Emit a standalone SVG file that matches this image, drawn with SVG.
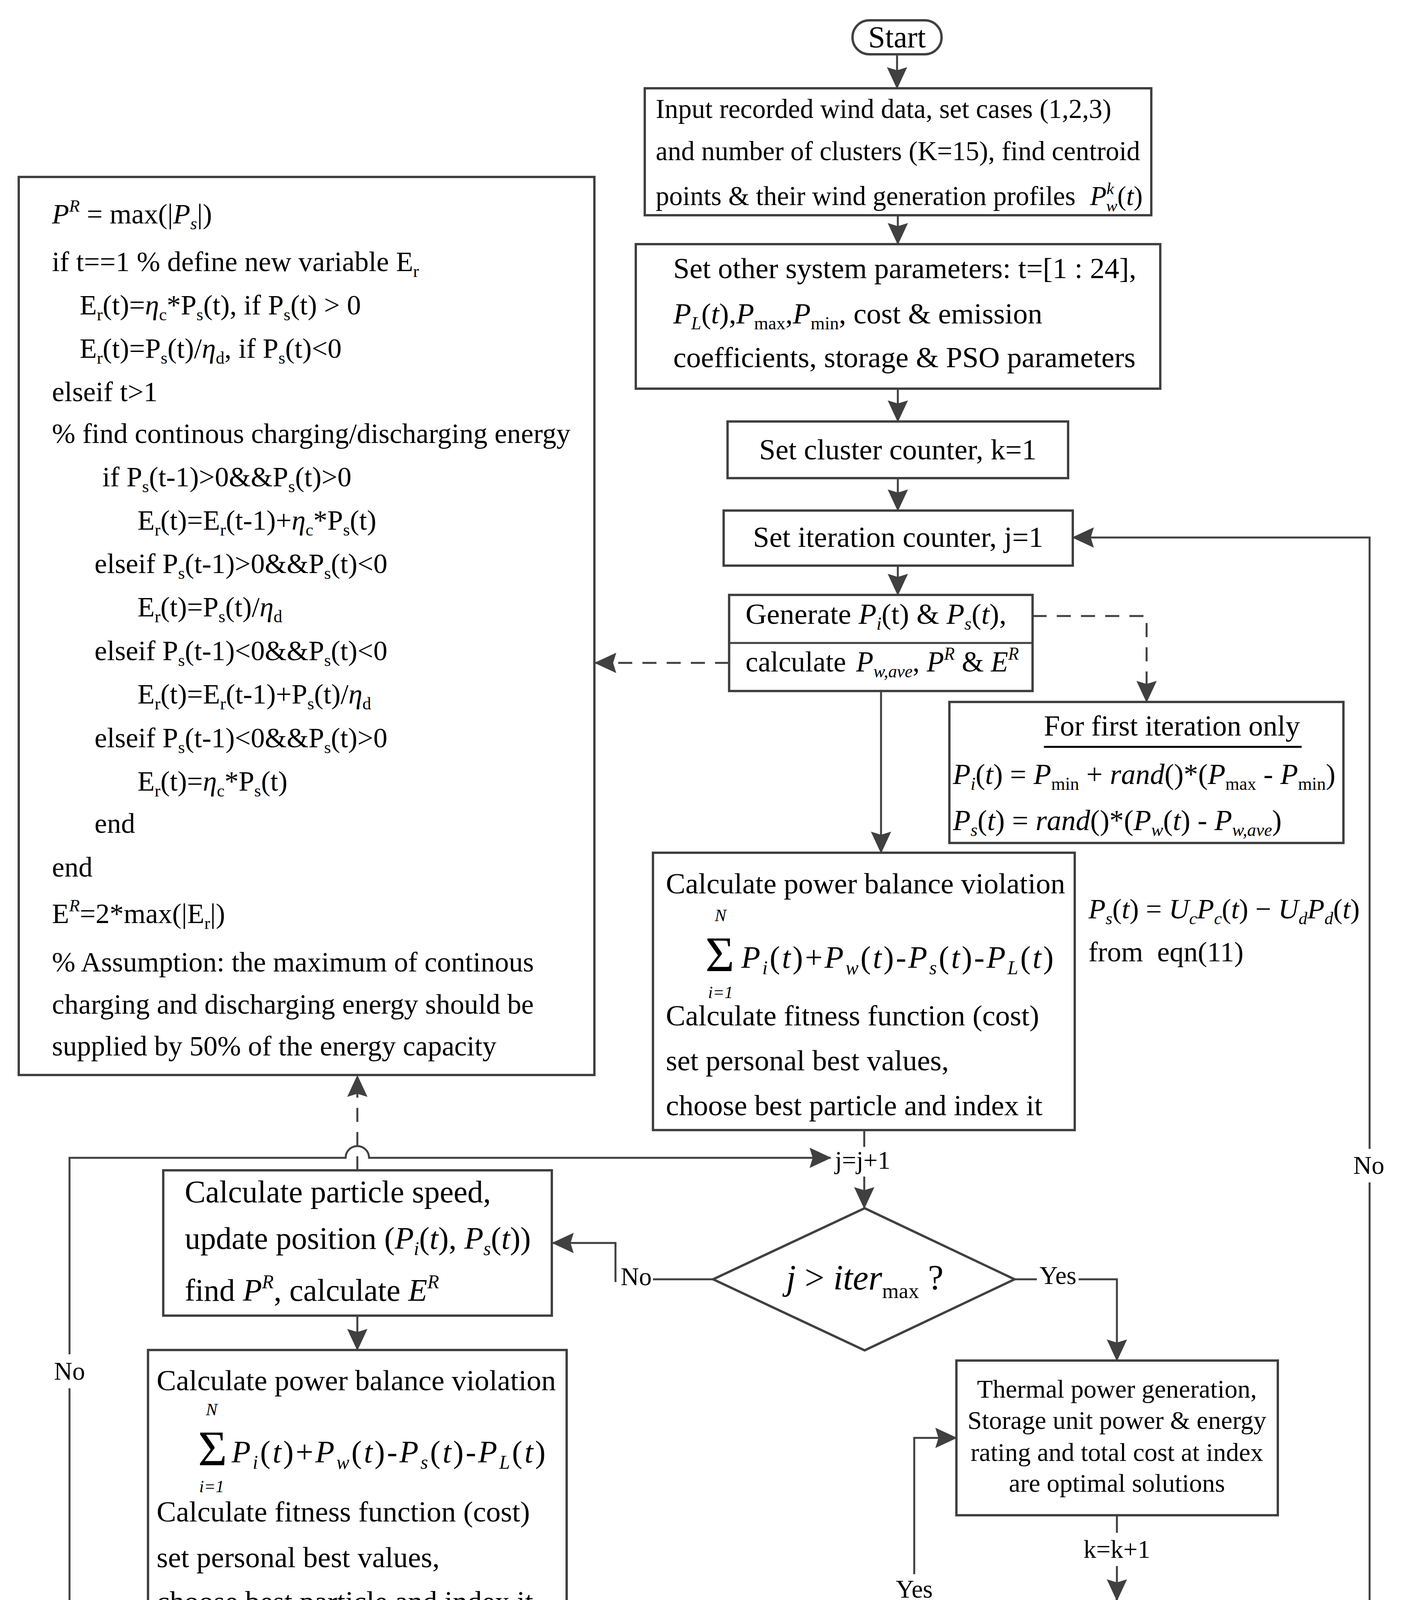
<svg xmlns="http://www.w3.org/2000/svg" width="3590" height="4958" viewBox="0 0 3590 4958">
<defs>
<style>
text{font-family:"Liberation Serif","Times New Roman",serif;fill:#000}
.bx{fill:#fff;stroke:#404040;stroke-width:6}
.ln{fill:none;stroke:#404040;stroke-width:5}
.dl{fill:none;stroke:#404040;stroke-width:5;stroke-dasharray:36 26}
.it{font-style:italic}
.sb{font-size:62%}
.f66{font-size:66px}
.f69{font-size:69px}
.f72{font-size:72px}
.f74{font-size:74px}
.f75{font-size:75px}
.f80{font-size:80px}
.f87{font-size:87px}
.lab{font-size:65px;text-anchor:middle}
.mid{text-anchor:middle}
</style>
<marker id="ah" viewBox="0 0 56 52" refX="54" refY="26" markerWidth="56" markerHeight="52" markerUnits="userSpaceOnUse" orient="auto"><path d="M0,0 L56,26 L0,52 L8,26 Z" fill="#404040"/></marker>
</defs>
<rect width="3590" height="4958" fill="#fff"/>

<g id="start">
<rect class="bx" x="2183" y="52" width="228" height="87" rx="43" ry="43"/>
<text class="mid" x="2297" y="121" font-size="78">Start</text>
</g>

<g id="input">
<rect class="bx" x="1651" y="226" width="1297" height="325"/>
<text class="f69" x="1679" y="302">Input recorded wind data, set cases (1,2,3)</text>
<text class="f69" x="1679" y="410">and number of clusters (K=15), find centroid</text>
<text class="f69" x="1679" y="525">points &amp; their wind generation profiles <tspan class="it" dx="20">P</tspan><tspan class="sb it" dy="-28">k</tspan><tspan class="sb it" dx="-20" dy="44">w</tspan><tspan dy="-16">(</tspan><tspan class="it">t</tspan><tspan>)</tspan></text>
</g>

<g id="params">
<rect class="bx" x="1628" y="625" width="1343" height="370"/>
<text class="f75" x="1724" y="712">Set other system parameters: t=[1 : 24],</text>
<text class="f75" x="1724" y="828"><tspan class="it">P</tspan><tspan class="sb it" dy="15">L</tspan><tspan dy="-15">(</tspan><tspan class="it">t</tspan><tspan>),</tspan><tspan class="it">P</tspan><tspan class="sb" dy="15">max</tspan><tspan dy="-15">,</tspan><tspan class="it">P</tspan><tspan class="sb" dy="15">min</tspan><tspan dy="-15">, cost &amp; emission</tspan></text>
<text class="f75" x="1724" y="940">coefficients, storage &amp; PSO parameters</text>
</g>

<g id="cluster">
<rect class="bx" x="1863" y="1079" width="872" height="145"/>
<text class="f75 mid" x="2299" y="1176">Set cluster counter, k=1</text>
</g>

<g id="iteration">
<rect class="bx" x="1853" y="1307" width="894" height="141"/>
<text class="f75 mid" x="2300" y="1400">Set iteration counter, j=1</text>
</g>

<g id="generate">
<rect class="bx" x="1867" y="1523" width="777" height="246"/>
<line class="ln" x1="1867" y1="1646" x2="2644" y2="1646"/>
<text class="f75" x="1909" y="1597">Generate <tspan class="it">P</tspan><tspan class="sb it" dy="15">i</tspan><tspan dy="-15">(t) &amp; </tspan><tspan class="it">P</tspan><tspan class="sb it" dy="15">s</tspan><tspan dy="-15">(</tspan><tspan class="it">t</tspan><tspan>),</tspan></text>
<text class="f75" x="1909" y="1719" textLength="700" lengthAdjust="spacingAndGlyphs">calculate <tspan class="it" dx="8">P</tspan><tspan class="sb it" dy="15">w,ave</tspan><tspan dy="-15">, </tspan><tspan class="it">P</tspan><tspan class="sb it" dy="-30">R</tspan><tspan dy="30"> &amp; </tspan><tspan class="it">E</tspan><tspan class="sb it" dy="-30">R</tspan></text>
</g>

<g id="firstiter">
<rect class="bx" x="2431" y="1797" width="1009" height="361"/>
<text class="f74" x="2673" y="1883">For first iteration only</text>
<line x1="2673" y1="1912" x2="3333" y2="1912" stroke="#000" stroke-width="5"/>
<text class="f74" x="2440" y="2007"><tspan class="it">P</tspan><tspan class="sb it" dy="15">i</tspan><tspan dy="-15">(</tspan><tspan class="it">t</tspan><tspan>) = </tspan><tspan class="it">P</tspan><tspan class="sb" dy="15">min</tspan><tspan dy="-15"> + </tspan><tspan class="it">rand</tspan><tspan>()*(</tspan><tspan class="it">P</tspan><tspan class="sb" dy="15">max</tspan><tspan dy="-15"> - </tspan><tspan class="it">P</tspan><tspan class="sb" dy="15">min</tspan><tspan dy="-15">)</tspan></text>
<text class="f74" x="2440" y="2125"><tspan class="it">P</tspan><tspan class="sb it" dy="15">s</tspan><tspan dy="-15">(</tspan><tspan class="it">t</tspan><tspan>) = </tspan><tspan class="it">rand</tspan><tspan>()*(</tspan><tspan class="it">P</tspan><tspan class="sb it" dy="15">w</tspan><tspan dy="-15">(</tspan><tspan class="it">t</tspan><tspan>) - </tspan><tspan class="it">P</tspan><tspan class="sb it" dy="15">w,ave</tspan><tspan dy="-15">)</tspan></text>
</g>

<g id="code">
<rect class="bx" x="48" y="453" width="1474" height="2299"/>
<text class="f72" x="133" y="572"><tspan class="it">P</tspan><tspan class="sb it" dy="-30">R</tspan><tspan dy="30"> = max(|</tspan><tspan class="it">P</tspan><tspan class="sb it" dy="15">s</tspan><tspan dy="-15">|)</tspan></text>
<text class="f72" x="133" y="694">if t==1 % define new variable E<tspan class="sb" dy="15">r</tspan></text>
<text class="f72" x="204" y="805">E<tspan class="sb" dy="15">r</tspan><tspan dy="-15">(t)=</tspan><tspan class="it">η</tspan><tspan class="sb" dy="15">c</tspan><tspan dy="-15">*P</tspan><tspan class="sb" dy="15">s</tspan><tspan dy="-15">(t), if P</tspan><tspan class="sb" dy="15">s</tspan><tspan dy="-15">(t) &gt; 0</tspan></text>
<text class="f72" x="204" y="916">E<tspan class="sb" dy="15">r</tspan><tspan dy="-15">(t)=P</tspan><tspan class="sb" dy="15">s</tspan><tspan dy="-15">(t)/</tspan><tspan class="it">η</tspan><tspan class="sb" dy="15">d</tspan><tspan dy="-15">, if P</tspan><tspan class="sb" dy="15">s</tspan><tspan dy="-15">(t)&lt;0</tspan></text>
<text class="f72" x="133" y="1027">elseif t&gt;1</text>
<text class="f72" x="133" y="1134">% find continous charging/discharging energy</text>
<text class="f72" x="262" y="1245">if P<tspan class="sb" dy="15">s</tspan><tspan dy="-15">(t-1)&gt;0&amp;&amp;P</tspan><tspan class="sb" dy="15">s</tspan><tspan dy="-15">(t)&gt;0</tspan></text>
<text class="f72" x="352" y="1356">E<tspan class="sb" dy="15">r</tspan><tspan dy="-15">(t)=E</tspan><tspan class="sb" dy="15">r</tspan><tspan dy="-15">(t-1)+</tspan><tspan class="it">η</tspan><tspan class="sb" dy="15">c</tspan><tspan dy="-15">*P</tspan><tspan class="sb" dy="15">s</tspan><tspan dy="-15">(t)</tspan></text>
<text class="f72" x="242" y="1467">elseif P<tspan class="sb" dy="15">s</tspan><tspan dy="-15">(t-1)&gt;0&amp;&amp;P</tspan><tspan class="sb" dy="15">s</tspan><tspan dy="-15">(t)&lt;0</tspan></text>
<text class="f72" x="352" y="1578">E<tspan class="sb" dy="15">r</tspan><tspan dy="-15">(t)=P</tspan><tspan class="sb" dy="15">s</tspan><tspan dy="-15">(t)/</tspan><tspan class="it">η</tspan><tspan class="sb" dy="15">d</tspan></text>
<text class="f72" x="242" y="1690">elseif P<tspan class="sb" dy="15">s</tspan><tspan dy="-15">(t-1)&lt;0&amp;&amp;P</tspan><tspan class="sb" dy="15">s</tspan><tspan dy="-15">(t)&lt;0</tspan></text>
<text class="f72" x="352" y="1801">E<tspan class="sb" dy="15">r</tspan><tspan dy="-15">(t)=E</tspan><tspan class="sb" dy="15">r</tspan><tspan dy="-15">(t-1)+P</tspan><tspan class="sb" dy="15">s</tspan><tspan dy="-15">(t)/</tspan><tspan class="it">η</tspan><tspan class="sb" dy="15">d</tspan></text>
<text class="f72" x="242" y="1913">elseif P<tspan class="sb" dy="15">s</tspan><tspan dy="-15">(t-1)&lt;0&amp;&amp;P</tspan><tspan class="sb" dy="15">s</tspan><tspan dy="-15">(t)&gt;0</tspan></text>
<text class="f72" x="352" y="2024">E<tspan class="sb" dy="15">r</tspan><tspan dy="-15">(t)=</tspan><tspan class="it">η</tspan><tspan class="sb" dy="15">c</tspan><tspan dy="-15">*P</tspan><tspan class="sb" dy="15">s</tspan><tspan dy="-15">(t)</tspan></text>
<text class="f72" x="242" y="2132">end</text>
<text class="f72" x="133" y="2244">end</text>
<text class="f72" x="133" y="2363">E<tspan class="sb it" dy="-30">R</tspan><tspan dy="30">=2*max(|E</tspan><tspan class="sb" dy="15">r</tspan><tspan dy="-15">|)</tspan></text>
<text class="f72" x="133" y="2487">% Assumption: the maximum of continous</text>
<text class="f72" x="133" y="2595">charging and discharging energy should be</text>
<text class="f72" x="133" y="2702">supplied by 50% of the energy capacity</text>
</g>

<g id="balance1">
<rect class="bx" x="1672" y="2183" width="1080" height="710"/>
<text class="f75" x="1705" y="2287">Calculate power balance violation</text>
<text x="1806" y="2486" font-size="128">Σ</text>
<text class="it mid" x="1845" y="2358" font-size="44">N</text>
<text class="it mid" x="1845" y="2555" font-size="44">i=1</text>
<text x="1898" y="2478" font-size="80" textLength="800" lengthAdjust="spacing"><tspan class="it">P</tspan><tspan class="sb it" dy="16">i</tspan><tspan dy="-16">(</tspan><tspan class="it">t</tspan><tspan>)+</tspan><tspan class="it">P</tspan><tspan class="sb it" dy="16">w</tspan><tspan dy="-16">(</tspan><tspan class="it">t</tspan><tspan>)-</tspan><tspan class="it">P</tspan><tspan class="sb it" dy="16">s</tspan><tspan dy="-16">(</tspan><tspan class="it">t</tspan><tspan>)-</tspan><tspan class="it">P</tspan><tspan class="sb it" dy="16">L</tspan><tspan dy="-16">(</tspan><tspan class="it">t</tspan><tspan>)</tspan></text>
<text class="f75" x="1705" y="2625">Calculate fitness function (cost)</text>
<text class="f75" x="1705" y="2740">set personal best values,</text>
<text class="f75" x="1705" y="2855">choose best particle and index it</text>
</g>

<g id="eqn11">
<text class="f72" x="2787" y="2351"><tspan class="it">P</tspan><tspan class="sb it" dy="15">s</tspan><tspan dy="-15">(</tspan><tspan class="it">t</tspan><tspan>) = </tspan><tspan class="it">U</tspan><tspan class="sb it" dy="15">c</tspan><tspan class="it" dy="-15">P</tspan><tspan class="sb it" dy="15">c</tspan><tspan dy="-15">(</tspan><tspan class="it">t</tspan><tspan>) − </tspan><tspan class="it">U</tspan><tspan class="sb it" dy="15">d</tspan><tspan class="it" dy="-15">P</tspan><tspan class="sb it" dy="15">d</tspan><tspan dy="-15">(</tspan><tspan class="it">t</tspan><tspan>)</tspan></text>
<text class="f72" x="2787" y="2461">from <tspan dx="18">eqn(11)</tspan></text>
</g>

<g id="decision-iter">
<polygon class="bx" points="2214,3093 2598,3275 2214,3457 1826,3275"/>
<text x="2013" y="3301" font-size="90"><tspan class="it">j</tspan><tspan> &gt; </tspan><tspan class="it">iter</tspan><tspan font-size="55" dy="22">max</tspan><tspan dy="-22"> ?</tspan></text>
</g>

<g id="particle">
<rect class="bx" x="418" y="2996" width="995" height="372"/>
<text class="f80" x="473" y="3078">Calculate particle speed,</text>
<text class="f80" x="473" y="3197">update position (<tspan class="it">P</tspan><tspan class="sb it" dy="16">i</tspan><tspan dy="-16">(</tspan><tspan class="it">t</tspan><tspan>), </tspan><tspan class="it">P</tspan><tspan class="sb it" dy="16">s</tspan><tspan dy="-16">(</tspan><tspan class="it">t</tspan><tspan>))</tspan></text>
<text class="f80" x="473" y="3330">find <tspan class="it">P</tspan><tspan class="sb it" dy="-32">R</tspan><tspan dy="32">, calculate </tspan><tspan class="it">E</tspan><tspan class="sb it" dy="-32">R</tspan></text>
</g>

<g id="balance2">
<rect class="bx" x="379" y="3456" width="1072" height="705"/>
<text class="f75" x="401" y="3559">Calculate power balance violation</text>
<text x="507" y="3751" font-size="128">Σ</text>
<text class="it mid" x="542" y="3623" font-size="44">N</text>
<text class="it mid" x="542" y="3820" font-size="44">i=1</text>
<text x="593" y="3744" font-size="80" textLength="804" lengthAdjust="spacing"><tspan class="it">P</tspan><tspan class="sb it" dy="16">i</tspan><tspan dy="-16">(</tspan><tspan class="it">t</tspan><tspan>)+</tspan><tspan class="it">P</tspan><tspan class="sb it" dy="16">w</tspan><tspan dy="-16">(</tspan><tspan class="it">t</tspan><tspan>)-</tspan><tspan class="it">P</tspan><tspan class="sb it" dy="16">s</tspan><tspan dy="-16">(</tspan><tspan class="it">t</tspan><tspan>)-</tspan><tspan class="it">P</tspan><tspan class="sb it" dy="16">L</tspan><tspan dy="-16">(</tspan><tspan class="it">t</tspan><tspan>)</tspan></text>
<text class="f75" x="401" y="3895">Calculate fitness function (cost)</text>
<text class="f75" x="401" y="4012">set personal best values,</text>
<text class="f75" x="401" y="4125">choose best particle and index it</text>
</g>

<g id="deltacost">
<rect class="bx" x="717" y="4287" width="395" height="258"/>
<text class="f87" x="736" y="4369">Calculate</text>
<text class="f87" x="736" y="4498">Δ(cost)</text>
</g>

<g id="decision-cost">
<polygon class="bx" points="1767,4235 2166,4415 1767,4598 1366,4415"/>
<text class="f87" x="1534" y="4433">Δ(cost) ≤ 0.01</text>
<text class="f87" x="1731" y="4564">?</text>
</g>

<g id="optimal">
<rect class="bx" x="2449" y="3483" width="823" height="396"/>
<text class="f66 mid" x="2860" y="3578">Thermal power generation,</text>
<text class="f66 mid" x="2860" y="3658">Storage unit power &amp; energy</text>
<text class="f66 mid" x="2860" y="3740">rating and total cost at index</text>
<text class="f66 mid" x="2860" y="3819">are optimal solutions</text>
</g>

<g id="decision-k">
<polygon class="bx" points="2859,4097 3052,4242 2859,4389 2668,4242"/>
<text class="f75 mid" x="2862" y="4265">k&gt;K ?</text>
</g>

<g id="stop">
<rect class="bx" x="2731" y="4578" width="258" height="100" rx="50" ry="50"/>
<text class="mid" x="2860" y="4653" font-size="76">Stop</text>
</g>

<g id="connectors">
<path class="ln" d="M2297,139 V226" marker-end="url(#ah)"/>
<path class="ln" d="M2299,551 V625" marker-end="url(#ah)"/>
<path class="ln" d="M2299,995 V1079" marker-end="url(#ah)"/>
<path class="ln" d="M2299,1224 V1307" marker-end="url(#ah)"/>
<path class="ln" d="M2299,1448 V1523" marker-end="url(#ah)"/>
<path class="ln" d="M2256,1769 V2183" marker-end="url(#ah)"/>
<path class="dl" d="M1867,1697 H1524" marker-end="url(#ah)"/>
<path class="dl" d="M2644,1577 H2936 V1797" marker-end="url(#ah)"/>
<path class="ln" d="M2213,2893 V2936"/>
<path class="ln" d="M2213,3012 V3093" marker-end="url(#ah)"/>
<path class="ln" d="M2598,3275 H2655"/>
<path class="ln" d="M2762,3275 H2860 V3483" marker-end="url(#ah)"/>
<path class="ln" d="M1826,3275 H1672"/>
<path class="ln" d="M1576,3282 V3182 H1415" marker-end="url(#ah)"/>
<path class="dl" d="M915,2996 V2754" marker-end="url(#ah)"/>
<path class="ln" d="M915,3368 V3456" marker-end="url(#ah)"/>
<path class="ln" d="M915,4161 V4287" marker-end="url(#ah)"/>
<path class="ln" d="M1112,4415 H1366" marker-end="url(#ah)"/>
<path class="ln" d="M2166,4415 H2341 V4113"/>
<path class="ln" d="M2341,4030 V3681 H2449" marker-end="url(#ah)"/>
<path class="ln" d="M1767,4598 V4698 H178 V3554"/>
<path class="ln" d="M178,3467 V2964 H885 A30,30 0 0 1 945,2964 H2127" marker-end="url(#ah)"/>
<path class="ln" d="M2860,3879 V3924"/>
<path class="ln" d="M2860,4009 V4097" marker-end="url(#ah)"/>
<path class="ln" d="M2859,4389 V4408"/>
<path class="ln" d="M2859,4507 V4578" marker-end="url(#ah)"/>
<path class="ln" d="M3052,4242 H3507 V3027"/>
<path class="ln" d="M3507,2941 V1376 H2747" marker-end="url(#ah)"/>
<text class="lab" x="2209" y="2992">j=j+1</text>
<text class="lab" x="2709" y="3287">Yes</text>
<text class="lab" x="1629" y="3290">No</text>
<text class="lab" x="3505" y="3005">No</text>
<text class="lab" x="178" y="3532">No</text>
<text class="lab" x="2341" y="4090">Yes</text>
<text class="lab" x="2860" y="3988">k=k+1</text>
<text class="lab" x="2859" y="4482">Yes</text>
</g>

<g id="note">
<text x="515" y="4885" font-size="76"><tspan font-weight="bold">Note:</tspan> the dotted lines are used to indicate how the defined functions are computed</text>
</g>
</svg>
